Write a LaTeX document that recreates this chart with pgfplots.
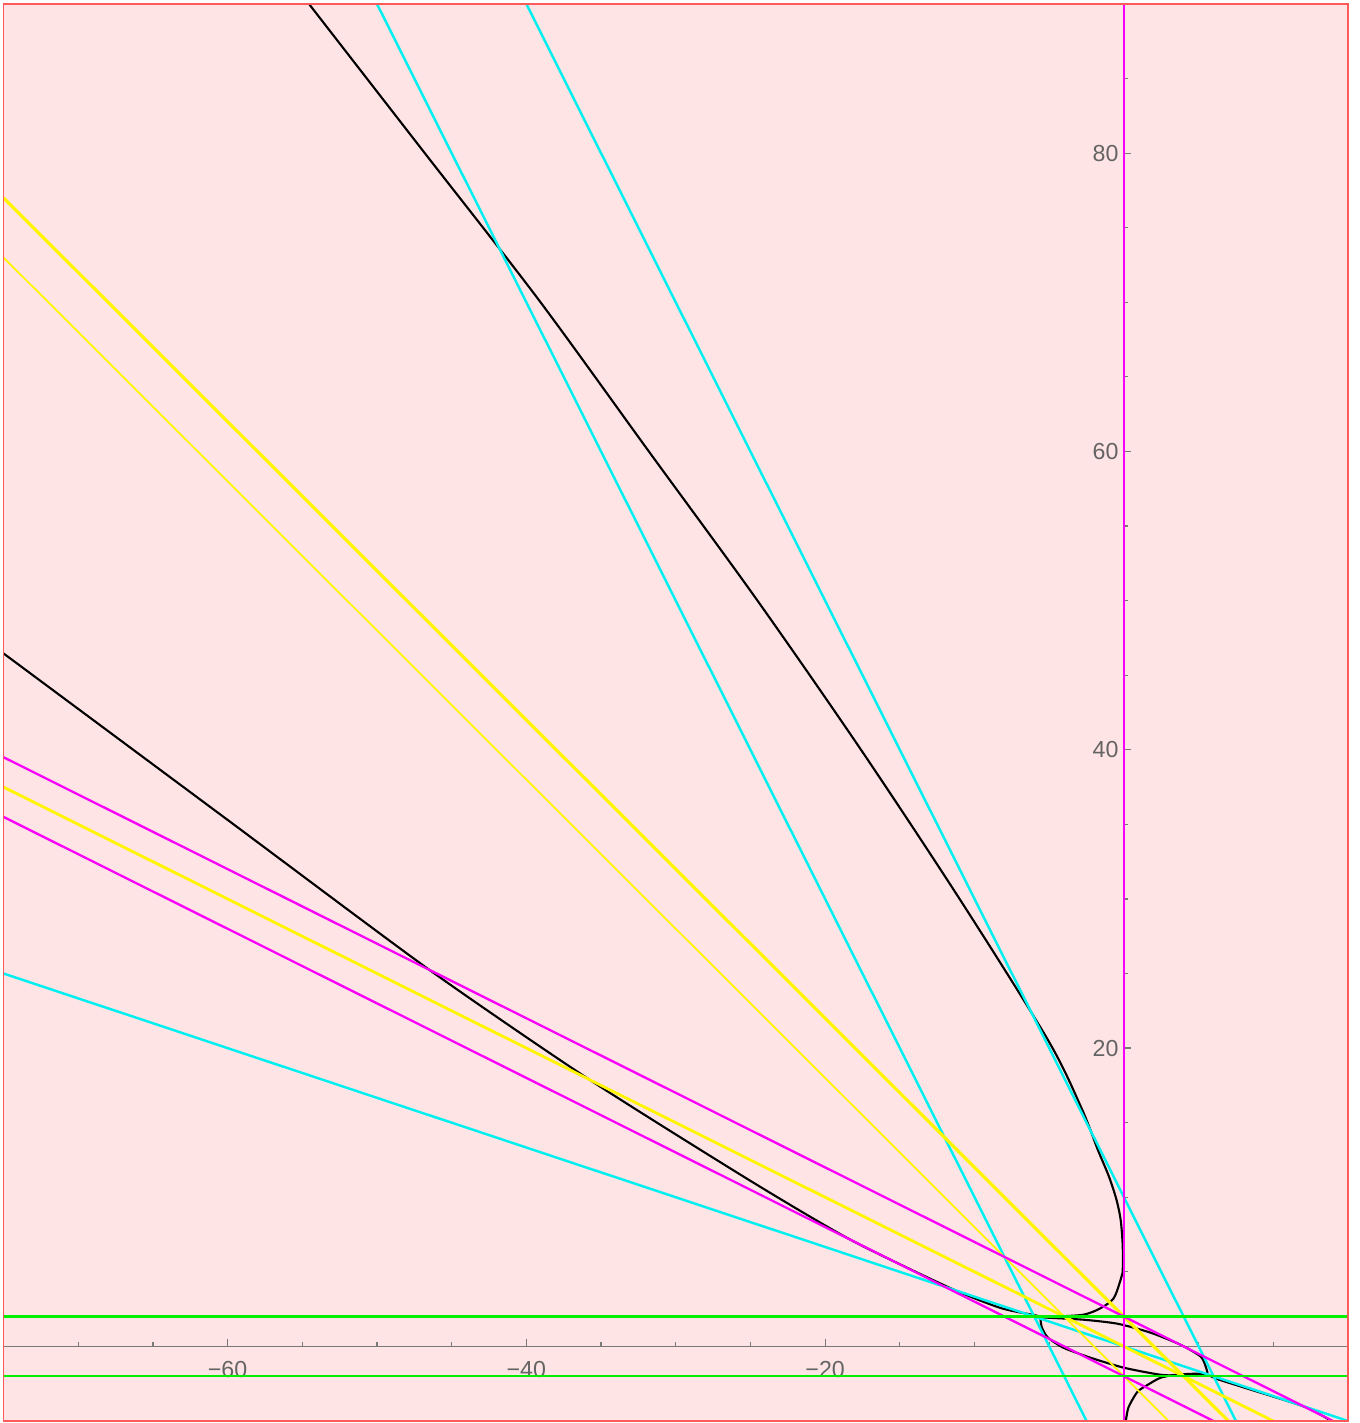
\documentclass[border=0pt]{standalone}
\usepackage{pgfplots}
\pgfplotsset{compat=1.18}
\usepackage{fontspec}
\setmainfont{Liberation Sans}
\definecolor{bgpink}{RGB}{255,228,230}
\definecolor{framered}{RGB}{255,90,90}
\definecolor{cy}{RGB}{0,240,240}
\definecolor{ye}{RGB}{255,245,0}
\definecolor{ma}{RGB}{250,0,250}
\definecolor{gr}{RGB}{0,240,0}
\definecolor{axgray}{RGB}{120,120,120}
\definecolor{labgray}{RGB}{100,100,100}
\begin{document}
\begin{tikzpicture}
\fill[white] (-0.035,-0.02) rectangle (13.565,14.21);
\useasboundingbox (-0.035,-0.02) rectangle (13.565,14.21);
\begin{axis}[
  at={(0,0)}, anchor=south west,
  scale only axis, width=13.445cm, height=14.17cm,
  xmin=-75, xmax=15, ymin=-5, ymax=90,
  enlargelimits=false,
  axis lines=middle,
  axis line style={draw=axgray, line width=0.35pt, -},
  axis background/.style={fill=bgpink},
  tick align=inside,
  major tick length=0.07cm, minor tick length=0.04cm,
  tick style={draw=axgray, line width=0.35pt},
  xtick={-60,-40,-20}, xticklabels={−60,−40,−20},
  ytick={20,40,60,80}, yticklabels={20,40,60,80},
  minor xtick={-75,-70,...,15},
  minor ytick={-5,0,...,90},
  ticklabel style={font=\fontsize{6.6}{7.5}\selectfont, text=labgray},
  xticklabel style={yshift=-0.02cm},
  yticklabel style={xshift=0.07cm},
  /pgf/number format/assume math mode=true,
  clip=true,
]
% black curve
\addplot[black, line width=0.6pt, smooth, tension=0.5] coordinates {
(-56.1,92) (-54.55,90) (-46.8,80) (-39.2,70.2) (-31.8,60) (-24.6,50.1) (-17.6,40) (-11.0,30) (-5.1,20.57) (-2.85,16) (-1.75,13.19) (-1.0,11.38) (-0.5,9.84) (-0.22,8.5) (-0.09,6.95) (-0.07,5.9) (-0.09,4.94) (-0.22,4.47) (-0.56,3.47) (-0.89,3.0) (-1.76,2.46) (-2.7,2.13) (-4.0,2.03) (-5.6,2.0)};
\addplot[black, line width=0.6pt, smooth, tension=0.4] coordinates {
(-76,47.2) (-75,46.46) (-60,35.3) (-46.5,25.25) (-35.8,17.9) (-25,11.1) (-18.3,7.15) (-11.6,3.9) (-8.27,2.58) (-6.06,2.11) (-5.6,2.0)};
\addplot[black, line width=0.6pt, smooth, tension=0.4] coordinates {
(-5.6,1.95) (-2.7,1.79) (-0.42,1.52) (1.79,0.92) (3.8,0.11) (5.15,-0.69) (5.5,-1.43) (5.6,-1.8)};
\addplot[black, line width=0.6pt, smooth, tension=0.4] coordinates {
(-5.6,1.95) (-5.5,1.3) (-5.1,0.6) (-4.04,-0.09) (-2.23,-0.76) (0,-1.43) (2.46,-1.9) (4,-1.95) (5.6,-1.85)};
\addplot[black, line width=0.6pt, smooth, tension=0.4] coordinates {
(0.1,-5.2) (0.3,-4.1) (0.9,-3.05) (1.6,-2.57) (2.45,-2.1) (3.5,-1.9) (5.35,-1.83) (6.28,-2.2) (8.5,-2.9) (12.05,-4.03) (13.9,-5) (14.5,-5.4)};
% cyan lines
\addplot[cy, line width=0.7pt] coordinates {(-55,100) (0,-10)};
\addplot[cy, line width=0.7pt] coordinates {(-45,100) (10,-10)};
\addplot[cy, line width=0.7pt] coordinates {(-75,25) (15,-5)};
% yellow lines
\addplot[ye, line width=0.9pt] coordinates {(-75,77) (15,-13)};
\addplot[ye, line width=0.5pt] coordinates {(-75,73) (15,-17)};
\addplot[ye, line width=0.8pt] coordinates {(-75,37.5) (15,-7.5)};
% magenta lines
\addplot[ma, line width=0.65pt] coordinates {(-75,39.5) (15,-5.5)};
\addplot[ma, line width=0.65pt] coordinates {(-75,35.5) (15,-9.5)};
\addplot[ma, line width=0.65pt] coordinates {(0,-5) (0,90)};
% green lines
\addplot[gr, line width=0.65pt] coordinates {(-75,2) (15,2)};
\addplot[gr, line width=0.65pt] coordinates {(-75,-2) (15,-2)};
\end{axis}
\draw[framered, line width=0.45pt] (0,0) rectangle (13.445,14.17);
\end{tikzpicture}
\end{document}
